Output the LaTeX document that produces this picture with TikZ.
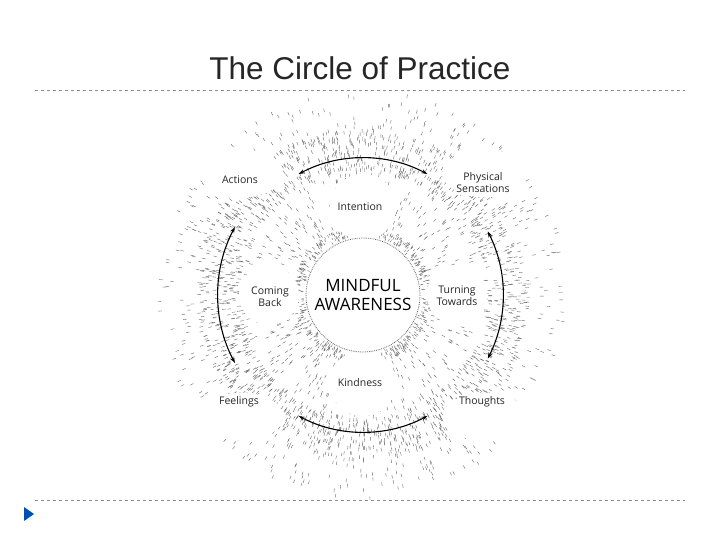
\documentclass[tikz,border=0pt]{standalone}
\usetikzlibrary{calc,arrows.meta}
\usepackage{fontspec}
\setmainfont{Liberation Sans}
\newfontfamily\lab{Open Sans}
\begin{document}
\begin{tikzpicture}[x=1pt,y=-1pt,
  lbl/.style={font=\lab\fontsize{10.5}{12}\selectfont,align=center,text=black!85,fill=white,inner sep=2pt},
  arc/.style={line width=1.1pt,{Stealth[length=6pt,width=4pt]}-{Stealth[length=6pt,width=4pt]}},
  tick/.style={black!60,line width=0.4pt}]
\useasboundingbox[fill=white] (0,0) rectangle (720,540);
\node[text=black!85] (title) at (360,68) {\fontsize{31.5}{36}\selectfont The Circle of Practice};
\coordinate (l1a) at (35,90); \coordinate (l1b) at (685,90);
\coordinate (l2a) at (35,500); \coordinate (l2b) at (685,500);
\draw[black!45,dashed,line width=0.6pt] (l1a) -- (l1b);
\draw[black!45,dashed,line width=0.6pt] (l2a) -- (l2b);
\fill[blue!55!cyan!70!black] (24,507) -- (34,514) -- (24,521) -- cycle;
\coordinate (c) at (363,295);
\pgfmathsetseed{7}
\foreach \i in {1,...,1300}{
  \pgfmathsetmacro\a{rnd*360}
  \pgfmathsetmacro\r{62+rnd*140}
  \draw[tick] ($(c)+(\a:\r)$) -- ($(c)+(\a:\r+3.5)$);
}
\foreach \i in {1,...,1400}{
  \pgfmathsetmacro\a{rnd*360}
  \pgfmathsetmacro\r{122+rnd*42}
  \draw[tick] ($(c)+(\a:\r)$) -- ($(c)+(\a:\r+3.5)$);
}
\foreach \i in {1,...,500}{
  \pgfmathsetmacro\a{rnd*360}
  \pgfmathsetmacro\r{58+rnd*10}
  \draw[tick] ($(c)+(\a:\r)$) -- ($(c)+(\a:\r+2.5)$);
}
% white clearings
\foreach \a/\d/\s in {90/88/33,270/88/33,0/94/30,180/94/30}{
  \fill[white] ($(c)+(\a:\d)$) circle (\s);
}
\foreach \a in {45,135,225,315}{
  \fill[white] ($(c)+(\a:172)$) ellipse (42 and 24);
}
\fill[white] (c) circle (57);
\draw[black!60,densely dotted,line width=0.8pt] (c) circle (57);
% arrows
\draw[arc] ($(c)+(-118:137)$) arc[start angle=-118,end angle=-62,radius=137];
\draw[arc] ($(c)+(118:137)$) arc[start angle=118,end angle=62,radius=137];
\draw[arc] ($(c)+(-152:145)$) arc[start angle=-152,end angle=-208,radius=145];
\draw[arc] ($(c)+(-27:140)$) arc[start angle=-27,end angle=27,radius=140];
\node[font=\lab\fontsize{17}{19}\selectfont,align=center] (mind) at (c) {MINDFUL\\AWARENESS};
\node[lbl] (int) at (360,207) {Intention};
\node[lbl] (kind) at (360,383) {Kindness};
\node[lbl] (cb) at (270,297) {Coming\\Back};
\node[lbl] (tt) at (457,296) {Turning\\Towards};
\node[lbl] (act) at (240,180) {Actions};
\node[lbl] (ps) at (483,183) {Physical\\Sensations};
\node[lbl] (feel) at (239,402) {Feelings};
\node[lbl] (th) at (482,402) {Thoughts};
\end{tikzpicture}
\end{document}
